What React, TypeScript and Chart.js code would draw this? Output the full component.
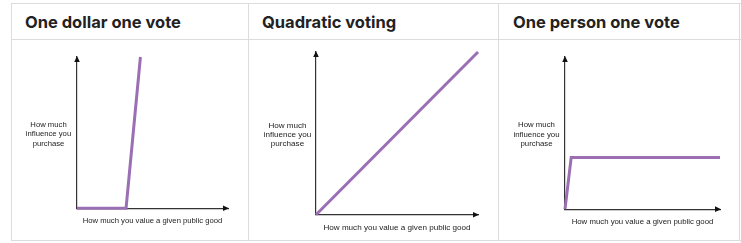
import React, { useEffect, useRef } from "react";
import { Chart, registerables } from "chart.js";

Chart.register(...registerables);

// ---- data ----
const titles = ["One dollar one vote", "Quadratic voting", "One person one vote"];
const xAxisLabel = "How much you value a given public good";
const yAxisLabel = ["How much", "influence you", "purchase"];

const dollarX = [0, 3.25, 4.2];
const dollarY = [0, 0, 10];
const quadraticX = [0, 10];
const quadraticY = [0, 10];
const personX = [0, 0.4, 10];
const personY = [0, 3.4, 3.4];

const PURPLE = "#9a6fb3";
const AXIS = "#333333";
const BORDER = "#dcdcdc";

type PanelCfg = {
  xs: number[];
  ys: number[];
  left: number;
  width: number;
  pad: { left: number; right: number; top: number; bottom: number };
  font: number;
};

const panels: PanelCfg[] = [
  { xs: dollarX, ys: dollarY, left: 12, width: 236, pad: { left: 65, right: 20, top: 17, bottom: 14 }, font: 7.7 },
  { xs: quadraticX, ys: quadraticY, left: 249, width: 248, pad: { left: 67, right: 19, top: 12, bottom: 7 }, font: 8.1 },
  { xs: personX, ys: personY, left: 499, width: 240, pad: { left: 66, right: 19, top: 17, bottom: 13 }, font: 7.8 },
];

const decor = {
  id: "decor",
  afterDraw(chart: any, _args: any, opts: any) {
    const { ctx, chartArea } = chart;
    const { left, right, top, bottom } = chartArea;
    ctx.save();
    ctx.fillStyle = "#111";
    // up arrow
    ctx.beginPath();
    ctx.moveTo(left, top - 1);
    ctx.lineTo(left - 2.8, top + 5);
    ctx.lineTo(left + 2.8, top + 5);
    ctx.closePath();
    ctx.fill();
    // right arrow
    ctx.beginPath();
    ctx.moveTo(right + 1, bottom);
    ctx.lineTo(right - 5, bottom - 2.8);
    ctx.lineTo(right - 5, bottom + 2.8);
    ctx.closePath();
    ctx.fill();
    // y label
    const fs = opts.font || 8;
    ctx.font = `${fs}px "Liberation Sans", Arial, sans-serif`;
    ctx.fillStyle = "#222";
    ctx.textAlign = "center";
    ctx.textBaseline = "middle";
    const lines: string[] = opts.lines || [];
    const lh = 9.3;
    const mid = (top + bottom) / 2 + 1.5;
    const cx = left - 28.5;
    lines.forEach((t, i) => {
      ctx.fillText(t, cx, mid + (i - (lines.length - 1) / 2) * lh);
    });
    ctx.restore();
  },
};

function Panel({ cfg }: { cfg: PanelCfg }) {
  const ref = useRef<HTMLCanvasElement>(null);
  useEffect(() => {
    if (!ref.current) return;
    const chart = new Chart(ref.current, {
      type: "line",
      data: {
        datasets: [
          {
            data: cfg.xs.map((x, i) => ({ x, y: cfg.ys[i] })),
            borderColor: PURPLE,
            borderWidth: 3,
            pointRadius: 0,
            tension: 0,
            clip: 4,
          } as any,
        ],
      },
      options: {
        animation: false,
        responsive: false,
        maintainAspectRatio: false,
        layout: { padding: cfg.pad },
        plugins: {
          legend: { display: false },
          tooltip: { enabled: false },
          decor: { lines: yAxisLabel, font: cfg.font },
        } as any,
        scales: {
          x: {
            type: "linear",
            min: 0,
            max: 10,
            ticks: { display: false },
            grid: { display: false, drawTicks: false },
            border: { display: true, color: AXIS, width: 1.2 },
            title: {
              display: true,
              text: xAxisLabel,
              color: "#222",
              font: { family: '"Liberation Sans", Arial, sans-serif', size: cfg.font },
              padding: { top: 8.5, bottom: 0 },
            },
          },
          y: {
            type: "linear",
            min: 0,
            max: 10,
            ticks: { display: false },
            grid: { display: false, drawTicks: false },
            border: { display: true, color: AXIS, width: 1.2 },
          },
        },
      },
      plugins: [decor],
    });
    return () => chart.destroy();
  }, [cfg]);
  return (
    <canvas
      ref={ref}
      width={cfg.width}
      height={200}
      style={{ position: "absolute", left: cfg.left, top: 40, width: cfg.width, height: 200 }}
    />
  );
}

export default function App() {
  const titleLefts = [25, 262, 513];
  const line = (style: React.CSSProperties) => (
    <div style={{ position: "absolute", background: BORDER, ...style }} />
  );
  return (
    <div style={{ position: "absolute", left: 0, top: 0, width: 741, height: 243, background: "#fff", overflow: "hidden" }}>
      {line({ left: 11, top: 3, width: 730, height: 1 })}
      {line({ left: 11, top: 39, width: 730, height: 1 })}
      {line({ left: 11, top: 240, width: 730, height: 1 })}
      {line({ left: 11, top: 3, width: 1, height: 238 })}
      {line({ left: 248, top: 3, width: 1, height: 238 })}
      {line({ left: 498, top: 3, width: 1, height: 238 })}
      {line({ left: 739, top: 3, width: 1, height: 238 })}
      {titles.map((t, i) => (
        <div
          key={t}
          style={{
            position: "absolute",
            left: titleLefts[i],
            top: 10,
            fontFamily: "Inter, sans-serif",
            fontWeight: 700,
            fontSize: 16.5,
            lineHeight: "24px",
            color: "#222",
            whiteSpace: "nowrap",
          }}
        >
          {t}
        </div>
      ))}
      {panels.map((p, i) => (
        <Panel key={i} cfg={p} />
      ))}
    </div>
  );
}
